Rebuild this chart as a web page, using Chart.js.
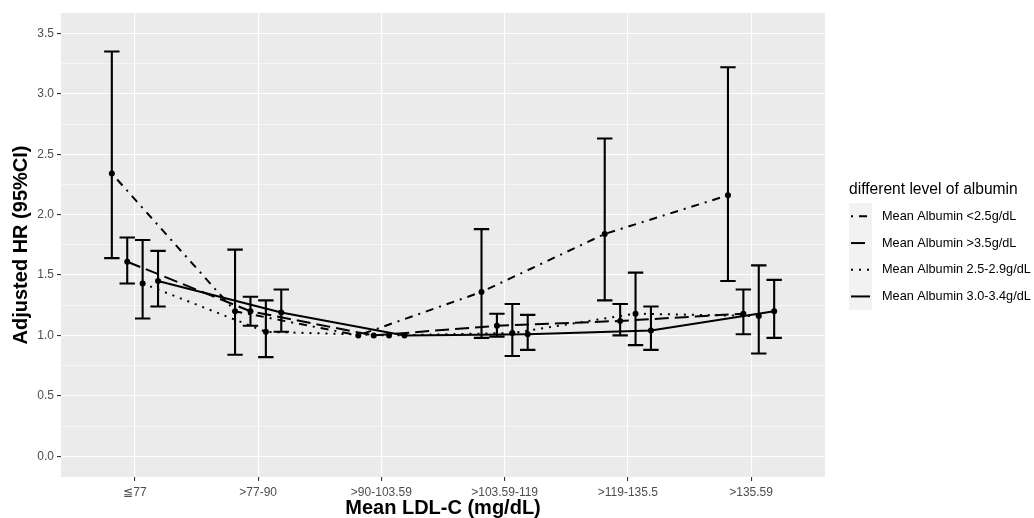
<!DOCTYPE html>
<html>
<head>
<meta charset="utf-8">
<script src="https://cdn.jsdelivr.net/npm/chart.js@4"></script>
<style>
  html, body { margin: 0; padding: 0; background: #fff; }
  #wrap { width: 1034px; height: 518px; position: relative; }
</style>
</head>
<body>
<div id="wrap"><canvas id="hrChart" width="1034" height="518"></canvas></div>
<script>
// ---------------- DATA ----------------

const categories = ["\u2266" + "77", ">77-90", ">90-103.59", ">103.59-119", ">119-135.5", ">135.59"];
const seriesNames = ["Mean Albumin <2.5g/dL", "Mean Albumin >3.5g/dL", "Mean Albumin 2.5-2.9g/dL", "Mean Albumin 3.0-3.4g/dL"];
const yTicks = [0, 0.25, 0.5, 0.75, 1, 1.25, 1.5, 1.75, 2, 2.25, 2.5, 2.75, 3, 3.25, 3.5];

const hrLow25  = [2.34, 1.20, 1.00, 1.36, 1.84, 2.16];
const loLow25  = [1.64, 0.84, null, 0.98, 1.29, 1.45];
const hiLow25  = [3.35, 1.71, null, 1.88, 2.63, 3.22];

const hrHigh35 = [1.61, 1.20, 1.00, 1.08, 1.12, 1.18];
const loHigh35 = [1.43, 1.08, null, 0.99, 1.00, 1.01];
const hiHigh35 = [1.81, 1.32, null, 1.18, 1.26, 1.38];

const hr25to29 = [1.43, 1.03, 1.00, 1.02, 1.18, 1.16];
const lo25to29 = [1.14, 0.82, null, 0.83, 0.92, 0.85];
const hi25to29 = [1.79, 1.29, null, 1.26, 1.52, 1.58];

const hr30to34 = [1.45, 1.19, 1.00, 1.01, 1.04, 1.20];
const lo30to34 = [1.24, 1.03, null, 0.88, 0.88, 0.98];
const hi30to34 = [1.70, 1.38, null, 1.17, 1.24, 1.46];

const hrSets = [hrLow25, hrHigh35, hr25to29, hr30to34];
const loSets = [loLow25, loHigh35, lo25to29, lo30to34];
const hiSets = [hiLow25, hiHigh35, hi25to29, hi30to34];

// ---------------- STYLE ----------------

const dodge = [-0.1875, -0.0625, 0.0625, 0.1875];
const capHalf = 0.0625;
const dashes = [[2, 6, 8, 6], [14, 6], [2, 6], []];
const FONT = "'Liberation Sans', Arial, sans-serif";

function isMajor(v) {
    return Math.abs(v * 2 - Math.round(v * 2)) < 1e-6;
}

// panel background
const panelBg = {
    id: "panelBg",
    beforeDraw(chart) {
        const a = chart.chartArea;
        const ctx = chart.ctx;
        ctx.save();
        ctx.fillStyle = "#EBEBEB";
        ctx.fillRect(a.left, a.top, a.right - a.left, a.bottom - a.top);
        ctx.restore();
    }
};

// error bars
const errorBars = {
    id: "errorBars",
    afterDatasetsDraw(chart) {
        const ctx = chart.ctx;
        const xs = chart.scales.x;
        const ys = chart.scales.y;
        ctx.save();
        ctx.strokeStyle = "#000";
        ctx.lineWidth = 2.1;
        ctx.setLineDash([]);
        for (let s = 0; s < hrSets.length; s++) {
            for (let i = 0; i < categories.length; i++) {
                const lo = loSets[s][i];
                const hi = hiSets[s][i];
                if (lo == null || hi == null) continue;
                const xv = i + 1 + dodge[s];
                const x = xs.getPixelForValue(xv);
                const xl = xs.getPixelForValue(xv - capHalf);
                const xr = xs.getPixelForValue(xv + capHalf);
                const yl = ys.getPixelForValue(lo);
                const yh = ys.getPixelForValue(hi);
                ctx.beginPath();
                ctx.moveTo(x, yl); ctx.lineTo(x, yh);
                ctx.moveTo(xl, yl); ctx.lineTo(xr, yl);
                ctx.moveTo(xl, yh); ctx.lineTo(xr, yh);
                ctx.stroke();
            }
        }
        ctx.restore();
    }
};

// legend on the right
const sideLegend = {
    id: "sideLegend",
    afterDraw(chart) {
        const ctx = chart.ctx;
        const x0 = 849;
        const keyW = 23;
        const rowH = 26.7;
        const top = 203;
        ctx.save();
        ctx.fillStyle = "#000";
        ctx.font = "15.6px " + FONT;
        ctx.textBaseline = "middle";
        ctx.fillText("different level of albumin", x0, 190);
        ctx.fillStyle = "#F2F2F2";
        ctx.fillRect(x0, top, keyW, rowH * seriesNames.length);
        ctx.font = "12.7px " + FONT;
        for (let s = 0; s < seriesNames.length; s++) {
            const y = top + rowH * s + rowH / 2;
            ctx.strokeStyle = "#000";
            ctx.lineWidth = 2;
            ctx.setLineDash(dashes[s]);
            ctx.beginPath();
            ctx.moveTo(x0 + 2, y);
            ctx.lineTo(x0 + keyW - 2, y);
            ctx.stroke();
            ctx.setLineDash([]);
            ctx.fillStyle = "#000";
            ctx.fillText(seriesNames[s], x0 + 33, y);
        }
        ctx.restore();
    }
};

const datasets = hrSets.map((hr, s) => ({
    label: seriesNames[s],
    data: hr.map((v, i) => ({ x: i + 1 + dodge[s], y: v })),
    borderColor: "#000",
    borderWidth: 2,
    borderDash: dashes[s],
    pointRadius: 3,
    pointBackgroundColor: "#000",
    pointBorderWidth: 0,
    tension: 0,
    fill: false
}));

new Chart(document.getElementById("hrChart"), {
    type: "line",
    data: { datasets: datasets },
    options: {
        responsive: false,
        animation: false,
        layout: { padding: { top: 13, right: 209, left: 0, bottom: 0 } },
        plugins: {
            legend: { display: false },
            tooltip: { enabled: false }
        },
        scales: {
            x: {
                type: "linear",
                min: 0.4,
                max: 6.6,
                afterBuildTicks: scale => {
                    scale.ticks = categories.map((c, i) => ({ value: i + 1 }));
                },
                afterFit: scale => { scale.height = 41; },
                border: { display: false },
                grid: {
                    color: "#FFFFFF",
                    lineWidth: 1.1,
                    drawTicks: true,
                    tickLength: 4,
                    tickColor: "#333333",
                    tickWidth: 1.1
                },
                ticks: {
                    padding: 4,
                    color: "#4D4D4D",
                    font: { family: FONT, size: 12 },
                    maxRotation: 0,
                    autoSkip: false,
                    callback: v => categories[Math.round(v) - 1]
                },
                title: {
                    display: true,
                    text: "Mean LDL-C (mg/dL)",
                    color: "#000",
                    font: { family: FONT, size: 20, weight: "bold", lineHeight: 1 },
                    padding: { top: 0, bottom: 0 }
                }
            },
            y: {
                type: "linear",
                min: -0.172,
                max: 3.669,
                afterBuildTicks: scale => {
                    scale.ticks = yTicks.map(v => ({ value: v }));
                },
                afterFit: scale => { scale.width = 61; },
                border: { display: false },
                grid: {
                    color: "#FFFFFF",
                    lineWidth: c => (c.tick && isMajor(c.tick.value)) ? 1.1 : 0.55,
                    drawTicks: true,
                    tickLength: 4,
                    tickColor: c => (c.tick && isMajor(c.tick.value)) ? "#333333" : "rgba(0,0,0,0)",
                    tickWidth: 1.1
                },
                ticks: {
                    padding: 3,
                    color: "#4D4D4D",
                    font: { family: FONT, size: 12 },
                    autoSkip: false,
                    callback: v => isMajor(v) ? v.toFixed(1) : ""
                },
                title: {
                    display: true,
                    text: "Adjusted HR (95%CI)",
                    color: "#000",
                    font: { family: FONT, size: 20, weight: "bold", lineHeight: 1.2 },
                    padding: { top: 9, bottom: 0 }
                }
            }
        }
    },
    plugins: [panelBg, errorBars, sideLegend]
});
</script>
</body>
</html>
